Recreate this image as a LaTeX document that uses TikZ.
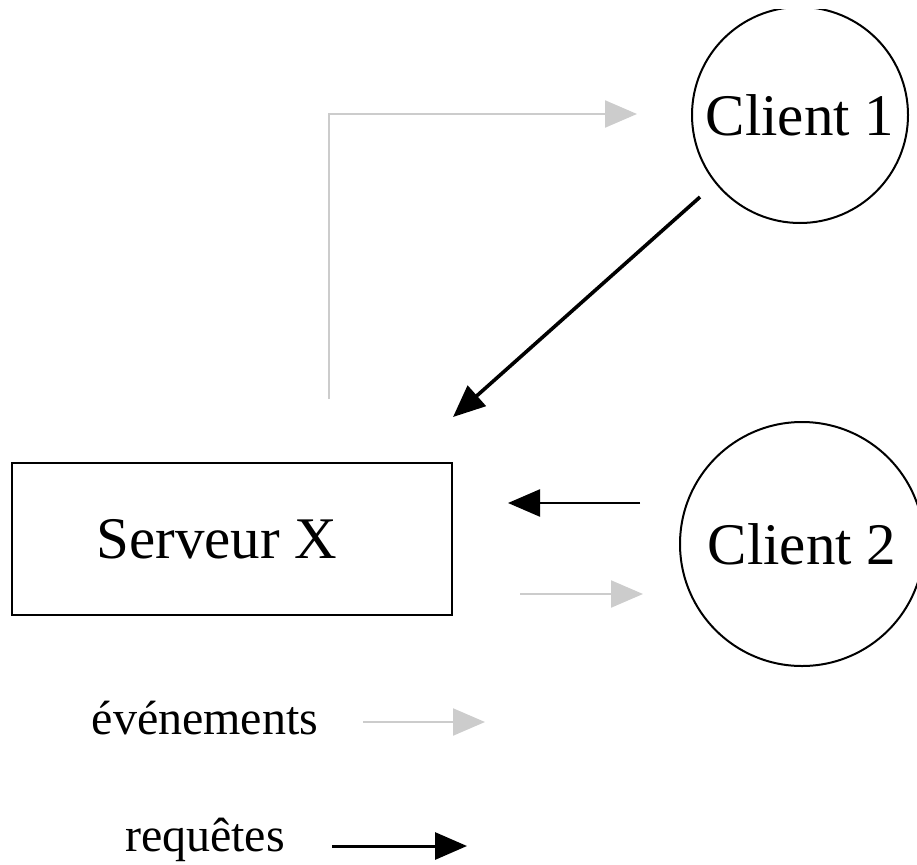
\documentclass[tikz,border=0pt]{standalone}
\usepackage{fontspec}
\setmainfont{Liberation Serif}
\usetikzlibrary{arrows.meta}
\definecolor{evtgray}{RGB}{204,204,204}
\tikzset{
  head/.style={-{Triangle[length=32pt,width=27pt]}},
  evt/.style={draw=evtgray, line width=2.2pt, head},
  req/.style={draw=black, line width=3pt, head},
  client/.style={draw, circle, line width=2pt, inner sep=0pt,
    font=\fontsize{59}{59}\selectfont},
  serverbox/.style={draw, rectangle, line width=2.5pt, inner sep=0pt},
  bigtext/.style={inner sep=0pt, anchor=base, font=\fontsize{59}{59}\selectfont},
  legendtext/.style={inner sep=0pt, anchor=base, font=\fontsize{48}{48}\selectfont}
}
\begin{document}
\begin{tikzpicture}[x=1pt,y=-1pt]
\useasboundingbox (0,0) rectangle (917,864);
\clip (0,10) rectangle (917,864);

% clients and server
\node[client, minimum size=216pt] (c1) at (800,115) {Client 1};
\node[client, minimum size=244pt] (c2) at (802,544) {Client 2};
\node[serverbox, minimum width=440pt, minimum height=152pt] (srv) at (232,539) {};
\node[bigtext] (srvlabel) at (217,558) {Serveur X};

% connector end points
\coordinate (evtA) at (329,399);
\coordinate (evtB) at (329,114);
\coordinate (evtC) at (637,114);
\coordinate (reqA) at (700,197);
\coordinate (reqB) at (453,417);
\coordinate (reqC) at (640,503);
\coordinate (reqD) at (508,503);
\coordinate (evtD) at (520,594);
\coordinate (evtE) at (643,594);

% events to client 1, request from client 1
\draw[evt] (evtA) -- (evtB) -- (evtC);
\draw[req, line width=3.6pt] (reqA) -- (reqB);

% request from client 2, events to client 2
\draw[req, line width=2.4pt] (reqC) -- (reqD);
\draw[evt] (evtD) -- (evtE);

% legend
\node[legendtext] (lgevt) at (205,734) {événements};
\coordinate (lgevtA) at (363,722);
\coordinate (lgevtB) at (485,722);
\draw[evt] (lgevtA) -- (lgevtB);

\node[legendtext] (lgreq) at (205,851) {requêtes};
\coordinate (lgreqA) at (332,846);
\coordinate (lgreqB) at (467,846);
\draw[req] (lgreqA) -- (lgreqB);
\end{tikzpicture}
\end{document}
